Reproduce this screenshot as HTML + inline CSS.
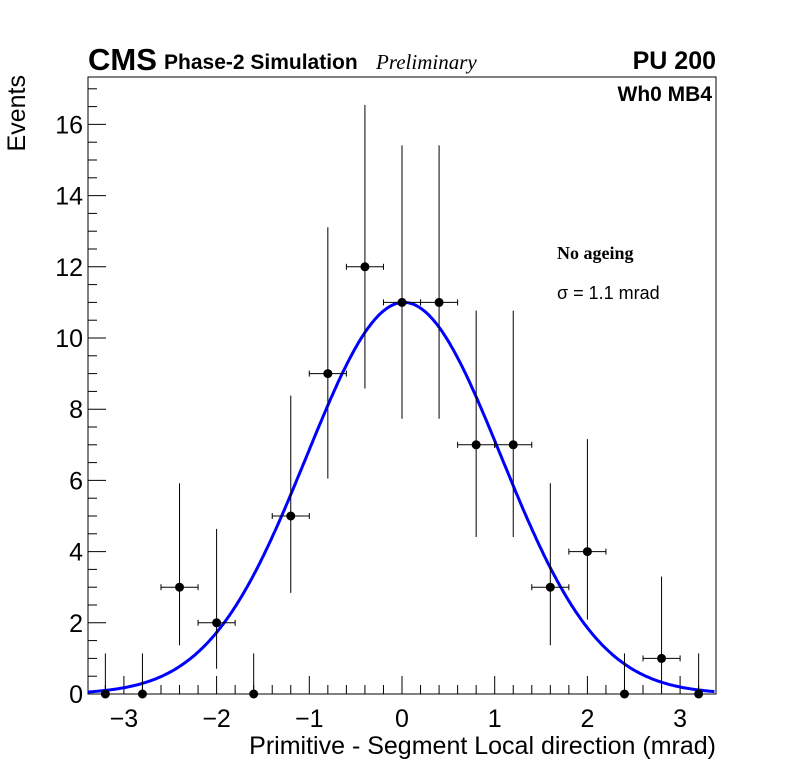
<!DOCTYPE html>
<html><head><meta charset="utf-8"><style>
body{margin:0;background:#fff;}
svg text{font-family:"Liberation Sans",sans-serif;}
</style></head><body>
<svg id="chart" width="796" height="772" viewBox="0 0 796 772">
<rect x="0" y="0" width="796" height="772" fill="#fff"/>
<rect x="88" y="77" width="628" height="617" fill="none" stroke="#000" stroke-width="1"/>
<g id="axes"></g>
<g id="fit"></g>
<g id="points"></g>
<text x="88" y="70" font-size="31" font-weight="bold">CMS</text>
<text x="164" y="69" font-size="21" font-weight="bold">Phase-2 Simulation</text>
<text x="376" y="69" font-size="21" font-style="italic" style="font-family:'Liberation Serif',serif">Preliminary</text>
<text x="716" y="69" font-size="25" font-weight="bold" text-anchor="end">PU 200</text>
<text x="712" y="101" font-size="21" font-weight="bold" text-anchor="end">Wh0 MB4</text>
<text x="557" y="259" font-size="18" font-weight="bold" style="font-family:'Liberation Serif',serif">No ageing</text>
<text x="557" y="299" font-size="18">σ = 1.1 mrad</text>
<text x="716" y="754" font-size="25" text-anchor="end">Primitive - Segment Local direction (mrad)</text>
<text transform="translate(25,75) rotate(-90)" font-size="25" text-anchor="end">Events</text>
</svg>
<script>
const binCenters=[-3.2,-2.8,-2.4,-2.0,-1.6,-1.2,-0.8,-0.4,0,0.4,0.8,1.2,1.6,2.0,2.4,2.8,3.2];
const counts=[0,0,3,2,0,5,9,12,11,11,7,7,3,4,0,1,0];
const errLow=[0,0,1.63,1.29,0,2.16,2.95,3.42,3.27,3.27,2.59,2.59,1.63,1.91,0,0.83,0];
const errHigh=[1.14,1.14,2.92,2.64,1.14,3.38,4.11,4.55,4.41,4.41,3.77,3.77,2.92,3.16,1.14,2.30,1.14];
const xTicks=[-3,-2,-1,0,1,2,3];
const yTicks=[0,2,4,6,8,10,12,14,16];
const fitAmp=[11.0],fitMean=[0.02],fitSigma=[1.05];
const binHalf=0.2;
const X=v=>402+v*92.7, Y=v=>694-v*35.6;
const NS="http://www.w3.org/2000/svg";
function mk(t,a,p){const e=document.createElementNS(NS,t);for(const k in a)e.setAttribute(k,a[k]);p.appendChild(e);return e;}
const ax=document.getElementById('axes');
for(let i=-17;i<=17;i++){const v=i*0.2;const x=X(v);if(x<88||x>716)continue;const maj=Math.abs(v-Math.round(v))<1e-6;
const t=mk('line',{x1:x,x2:x,y1:694,y2:694-(maj?18:9),stroke:'#000','stroke-width':1},ax);

}
xTicks.forEach(v=>{const t=mk('text',{x:X(v),y:727,'font-size':25,'text-anchor':'middle'},ax);t.textContent=(v<0?'\u2212'+(-v):v);

});
for(let i=0;i<=34;i++){const v=i*0.5;const y=Y(v);if(y<77)continue;const maj=i%4==0;
const t=mk('line',{x1:88,x2:88+(maj?18:9),y1:y,y2:y,stroke:'#000','stroke-width':1},ax);

}
yTicks.forEach(v=>{const t=mk('text',{x:83,y:Y(v)+9,'font-size':25,'text-anchor':'end'},ax);t.textContent=v;

});
let d='';for(let x=-3.39;x<=3.39;x+=0.02){const y=fitAmp[0]*Math.exp(-Math.pow(x-fitMean[0],2)/(2*fitSigma[0]*fitSigma[0]));d+=(d?'L':'M')+X(x).toFixed(1)+','+Y(y).toFixed(1);}
const f=mk('path',{d:d,fill:'none',stroke:'#0000ff','stroke-width':3},document.getElementById('fit'));


const pg=document.getElementById('points');
binCenters.forEach((c,i)=>{const n=counts[i];const g=mk('g',{},pg);


const x=X(c),y=Y(n);
mk('line',{x1:x,x2:x,y1:Y(n+errHigh[i]),y2:Y(Math.max(0,n-errLow[i])),stroke:'#000','stroke-width':1},g);
if(n>0){mk('line',{x1:X(c-binHalf),x2:X(c+binHalf),y1:y,y2:y,stroke:'#000','stroke-width':1},g);
mk('line',{x1:X(c-binHalf),x2:X(c-binHalf),y1:y-3,y2:y+3,stroke:'#000'},g);
mk('line',{x1:X(c+binHalf),x2:X(c+binHalf),y1:y-3,y2:y+3,stroke:'#000'},g);}
mk('circle',{cx:x,cy:y,r:4.5,fill:'#000'},g);});
</script>
</body></html>
